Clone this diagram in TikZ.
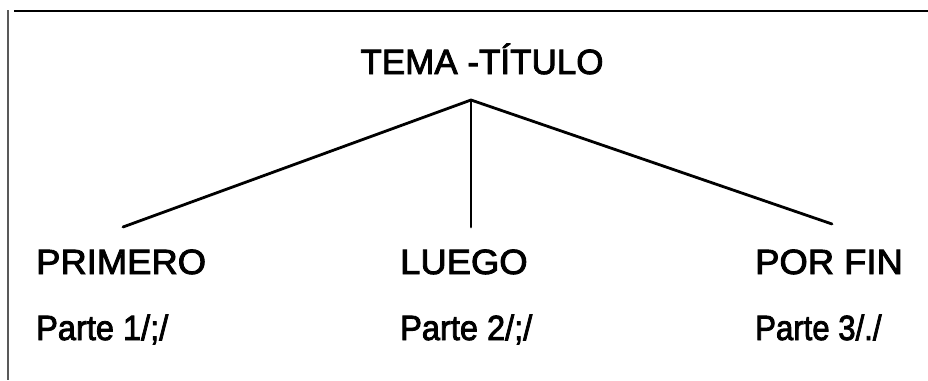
\documentclass[tikz,border=0pt]{standalone}
\usepackage{fontspec}
\setmainfont{Liberation Sans}[FakeBold=2.5]
\usepackage{graphicx}
\begin{document}
\begin{tikzpicture}[x=1pt,y=-1pt,
  lbl/.style={anchor=base west, inner sep=0pt, font=\fontsize{35}{40}\selectfont},
  conn/.style={line width=2.8pt, line cap=round},
  frame/.style={line width=2.4pt}]
\useasboundingbox (0,0) rectangle (928,380);
% frame
\draw[frame] (14,11) -- (928,11);
\draw[line width=1.5pt, black!65] (8,10) -- (8,380);
% title
\node[lbl, anchor=base] (title) at (482,74) {\scalebox{1.0}[1]{TEMA -TÍTULO}};
% headings
\node[lbl] (primero) at (36,274) {\scalebox{1.04}[1]{PRIMERO}};
\node[lbl] (luego) at (400,274) {\scalebox{1.04}[1]{LUEGO}};
\node[lbl] (porfin) at (755,274) {\scalebox{1.04}[1]{POR FIN}};
% parts
\node[lbl] (p1) at (36,340) {\scalebox{0.93}[1]{Parte 1/;/}};
\node[lbl] (p2) at (400,340) {\scalebox{0.93}[1]{Parte 2/;/}};
\node[lbl] (p3) at (755,340) {\scalebox{0.89}[1]{Parte 3/./}};
% connectors
\coordinate (apex) at (471,100);
\coordinate (endl) at (123,227);
\coordinate (endm) at (471,227);
\coordinate (endr) at (832,224);
\draw[conn] (apex) -- (endl);
\draw[conn] (apex) -- (endm);
\draw[conn] (apex) -- (endr);
\end{tikzpicture}
\end{document}
